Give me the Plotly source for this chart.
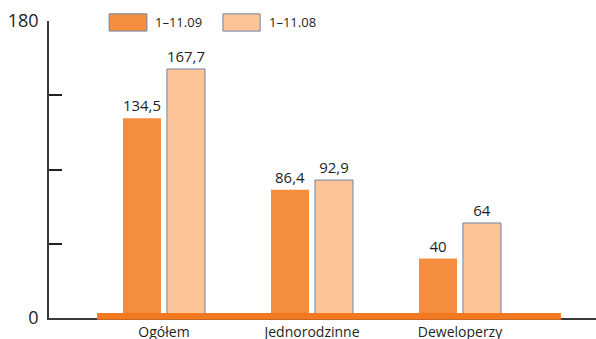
import plotly.graph_objects as go

# Data
categories = ["Ogółem", "Jednorodzinne", "Deweloperzy"]
series_09 = [134.5, 86.4, 40]
series_08 = [167.7, 92.9, 64]
name_09 = "1–11.09"
name_08 = "1–11.08"
ytick_vals = [0, 50, 100, 150, 200]
ytick_text = ["0", "", "", "", "180"]

ORANGE = "#F58D3E"
LIGHT = "#FCC497"
BAND = "#F47A22"
OUTLINE = "#6F84A8"
TEXT = "#231F20"
AXIS = "#3A3A3A"
FONT = "Open Sans"


def fmt(v):
    return (f"{v:g}").replace(".", ",")


fig = go.Figure()
fig.add_trace(go.Bar(
    x=categories, y=series_09, name=name_09,
    width=0.257, offset=-0.277,
    marker=dict(color=ORANGE, line=dict(width=0)),
    text=[fmt(v) for v in series_09], textposition="outside",
    textfont=dict(family=FONT, size=15, color=TEXT),
    cliponaxis=False, showlegend=False,
))
fig.add_trace(go.Bar(
    x=categories, y=series_08, name=name_08,
    width=0.257, offset=0.020,
    marker=dict(color=LIGHT, line=dict(width=1, color=OUTLINE)),
    text=[fmt(v) for v in series_08], textposition="outside",
    textfont=dict(family=FONT, size=15, color=TEXT),
    cliponaxis=False, showlegend=False,
))

shapes = [
    # orange baseline band
    dict(type="rect", xref="x", yref="paper", x0=-0.453, x1=2.682,
         y0=-0.006, y1=0.017, fillcolor=BAND, line=dict(width=0), layer="above"),
    # legend swatches
    dict(type="rect", xref="paper", yref="paper", x0=0.110, x1=0.179,
         y0=0.966, y1=1.024, fillcolor=ORANGE, line=dict(width=1, color=OUTLINE)),
    dict(type="rect", xref="paper", yref="paper", x0=0.318, x1=0.386,
         y0=0.966, y1=1.024, fillcolor=LIGHT, line=dict(width=1, color=OUTLINE)),
]
annotations = [
    dict(text=name_09, xref="paper", yref="paper", x=0.190, y=0.995,
         xanchor="left", yanchor="middle", showarrow=False,
         font=dict(family=FONT, size=13, color=TEXT)),
    dict(text=name_08, xref="paper", yref="paper", x=0.3985, y=0.995,
         xanchor="left", yanchor="middle", showarrow=False,
         font=dict(family=FONT, size=13, color=TEXT)),
]

fig.update_layout(
    width=596, height=339,
    margin=dict(l=49, r=0, t=21, b=21),
    paper_bgcolor="white", plot_bgcolor="white",
    barmode="group",
    shapes=shapes, annotations=annotations,
    xaxis=dict(
        type="category", range=[-0.777, 2.919], automargin=False,
        showgrid=False, zeroline=False,
        showline=True, linecolor=AXIS, linewidth=1.5,
        ticks="", ticklabelstandoff=0,
        tickfont=dict(family=FONT, size=14, color=TEXT),
    ),
    yaxis=dict(
        range=[0, 200], tickvals=ytick_vals, ticktext=ytick_text,
        automargin=False,
        showgrid=False, zeroline=False,
        showline=True, linecolor=AXIS, linewidth=1.5,
        ticks="inside", ticklen=13, tickwidth=2, tickcolor="#222222",
        ticklabelstandoff=5,
        tickfont=dict(family=FONT, size=18, color=TEXT),
    ),
)

fig.write_html("out.html")
